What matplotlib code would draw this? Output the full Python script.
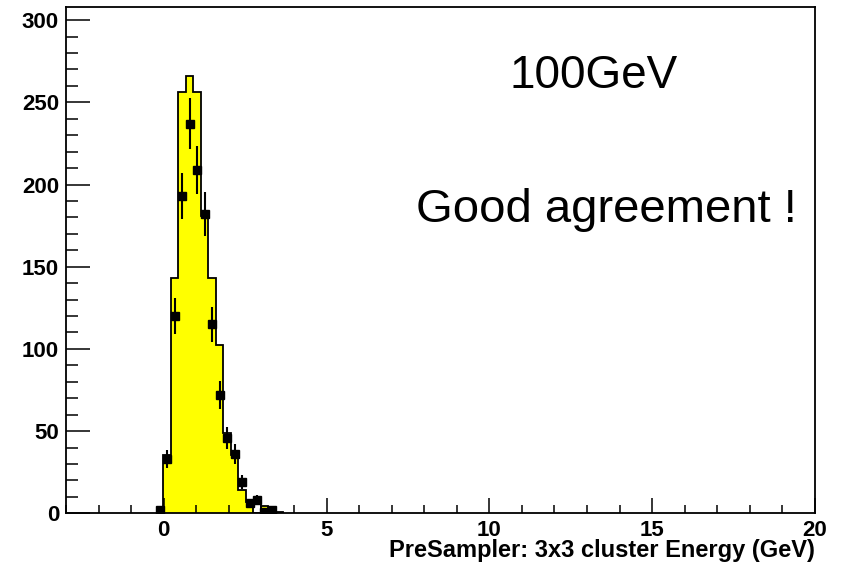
import matplotlib
matplotlib.use("Agg")
import matplotlib.pyplot as plt
import numpy as np
from matplotlib.ticker import MultipleLocator

plt.rcParams['font.family'] = ['Liberation Sans', 'DejaVu Sans']

# 100 bins from -3 to 20 GeV, first filled bin is number 12
n_bins = 100
x_lo, x_hi = -3.0, 20.0
first_bin = 12

# MC (yellow histogram)
mc_counts = [0, 35.5, 143, 256.5, 266, 256.5, 181, 143, 102.6, 48.7,
             35.5, 14.2, 7, 0, 4.5, 1, 0.8]
# test beam data (black squares)
data_counts = [2, 33, 120, 193, 237, 209, 182, 115, 72, 46,
               36, 19, 6, 8, 1, 2]

edges = np.linspace(x_lo, x_hi, n_bins + 1)
width = edges[1] - edges[0]
centers = 0.5 * (edges[:-1] + edges[1:])

mc = np.zeros(n_bins)
mc[first_bin:first_bin + len(mc_counts)] = mc_counts
data = np.array(data_counts, dtype=float)
data_x = centers[first_bin:first_bin + len(data)]

fig = plt.figure(figsize=(8.41, 5.71), dpi=100)
ax = fig.add_axes([66 / 841, 1 - 513.3 / 571, (815 - 66) / 841, (513.3 - 7) / 571])

last = first_bin + len(mc_counts)
ax.stairs(mc[first_bin:last], edges[first_bin:last + 1], fill=True,
          color='#ffff00', zorder=1)
ax.stairs(mc[first_bin:last], edges[first_bin:last + 1], baseline=0,
          color='black', lw=1.3, zorder=2)

ax.errorbar(data_x, data, yerr=np.sqrt(data), xerr=width / 2, fmt='s',
            color='black', ms=5.5, lw=1.5, capsize=0, zorder=3)

ax.set_xlim(x_lo, x_hi)
ax.set_ylim(0, 308)

ax.xaxis.set_major_locator(MultipleLocator(5))
ax.xaxis.set_minor_locator(MultipleLocator(1))
ax.yaxis.set_major_locator(MultipleLocator(50))
ax.yaxis.set_minor_locator(MultipleLocator(10))

ax.tick_params(axis='x', which='major', direction='in', length=11, width=1.1,
               labelsize=16, pad=5, top=False)
ax.tick_params(axis='x', which='minor', direction='in', length=5.5, width=1.1, top=False)
ax.tick_params(axis='y', which='major', direction='in', length=17, width=1.1,
               labelsize=16, pad=5, right=False)
ax.tick_params(axis='y', which='minor', direction='in', length=8.5, width=1.1, right=False)
for lab in ax.get_xticklabels() + ax.get_yticklabels():
    lab.set_fontweight('bold')

for s in ax.spines.values():
    s.set_linewidth(1.3)

fig.text(815 / 841, 1 - 551 / 571, 'PreSampler: 3x3 cluster Energy (GeV)',
         ha='right', va='center', fontsize=17, fontweight='bold')

fig.text(593.5 / 841, 1 - 88.3 / 571, '100GeV', ha='center', va='baseline',
         fontsize=33)
fig.text(606 / 841, 1 - 221.7 / 571, 'Good agreement !', ha='center',
         va='baseline', fontsize=34)

fig.savefig('out.png', dpi=100)
